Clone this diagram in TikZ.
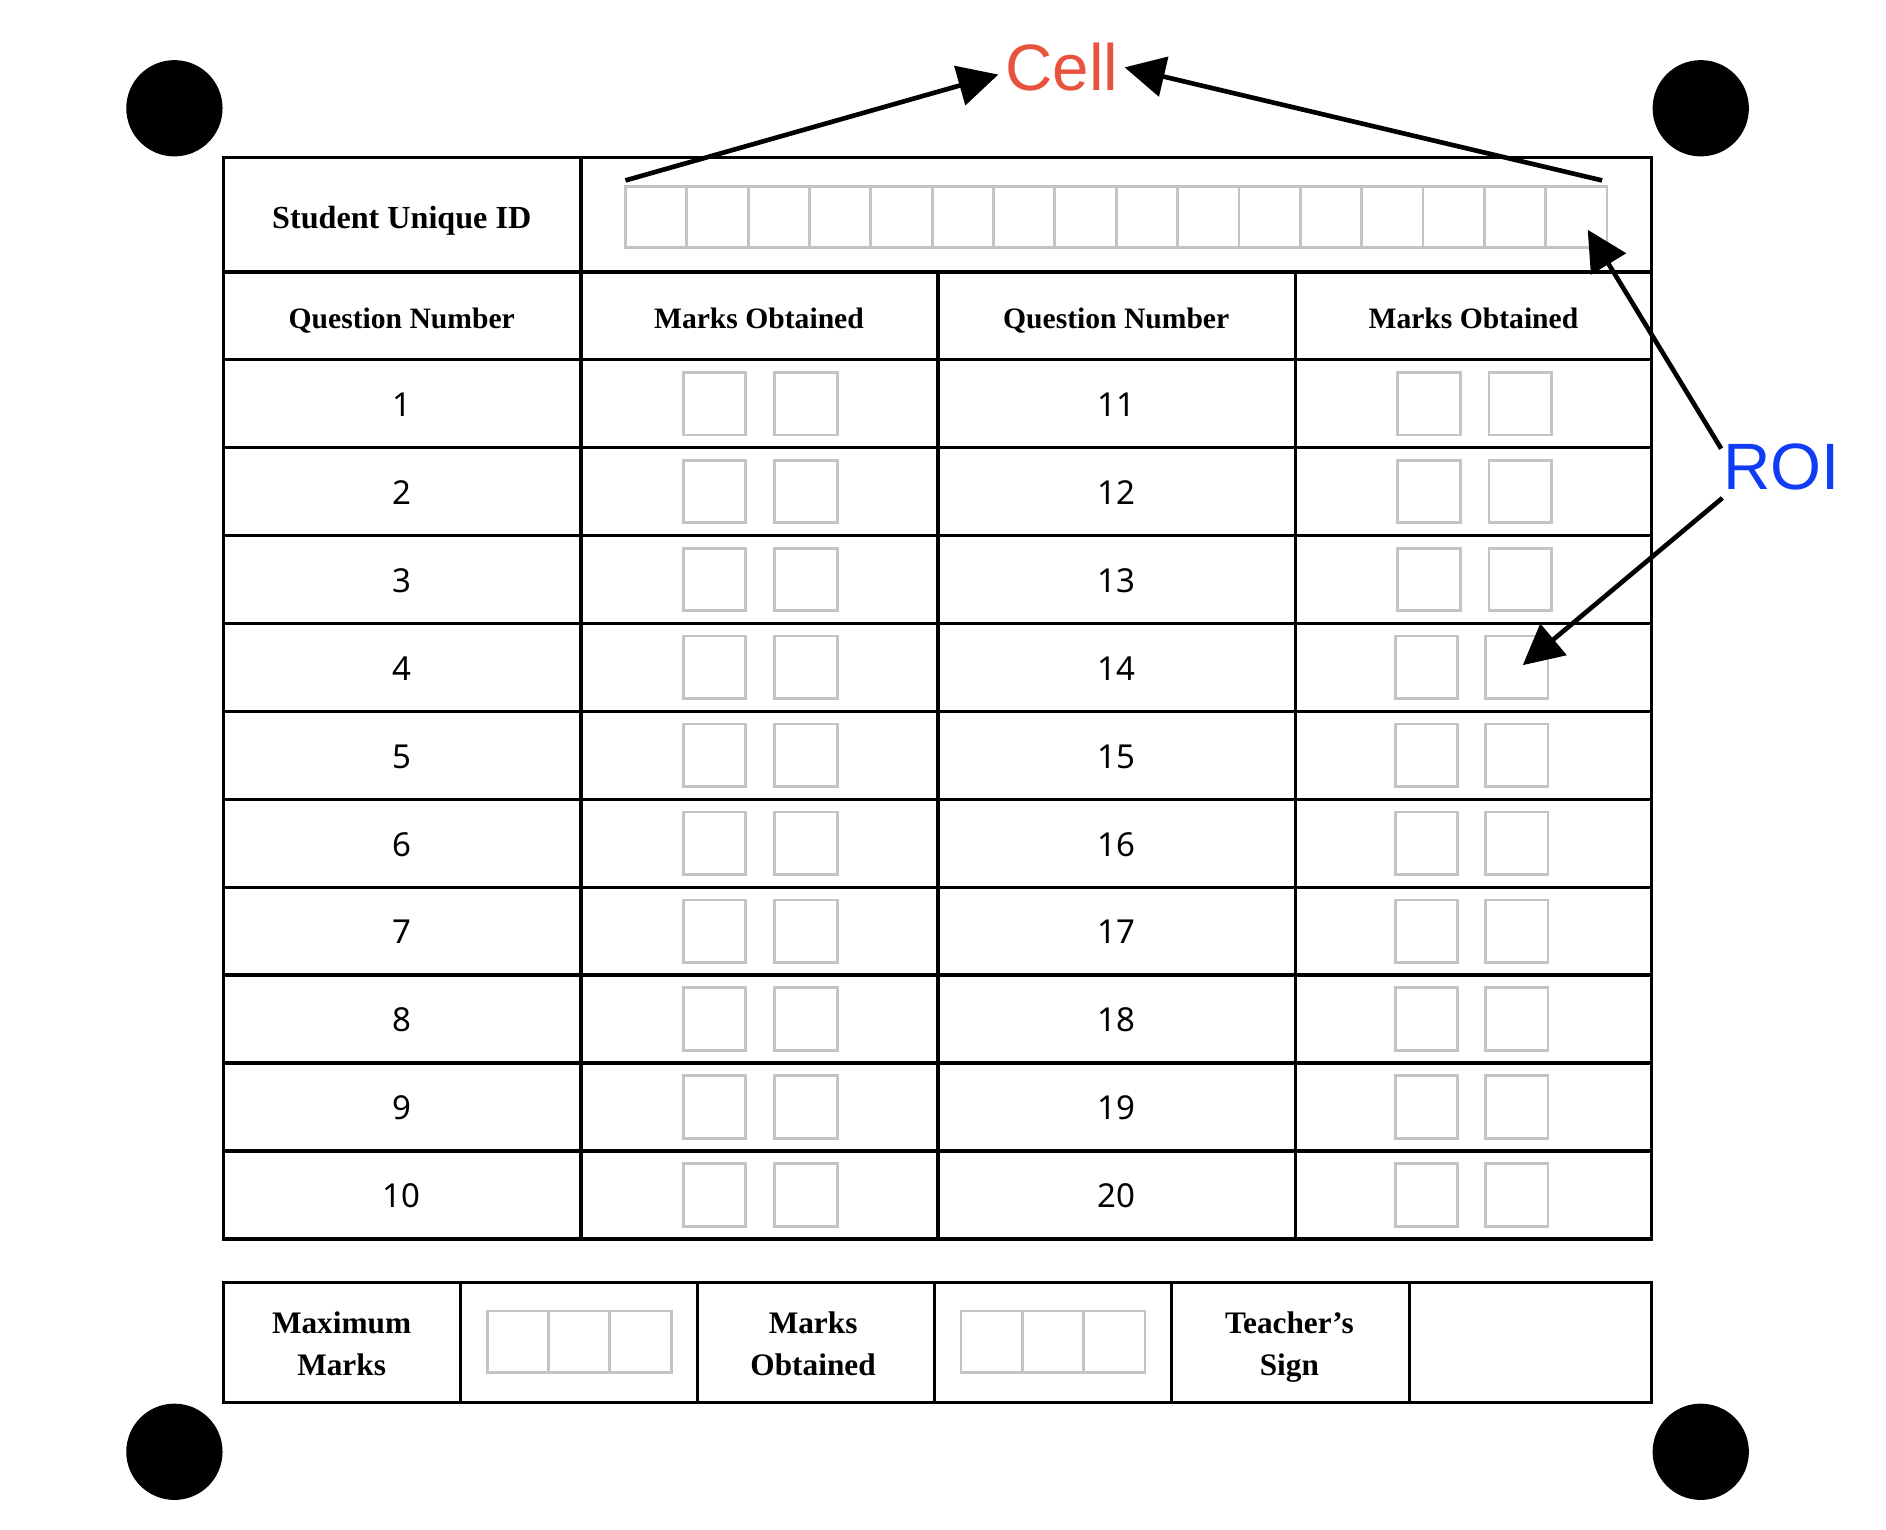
\documentclass[tikz,border=0pt]{standalone}
\usepackage{fontspec}
\setmainfont{Liberation Serif}
\newfontfamily\numfont{Noto Sans}
\newfontfamily\labfont{Liberation Sans}
\usetikzlibrary{arrows.meta}
\definecolor{cellred}{RGB}{232,83,63}
\definecolor{roiblue}{RGB}{16,60,245}
\definecolor{boxgray}{RGB}{196,196,196}
\begin{document}
\begin{tikzpicture}[x=0.01cm,y=-0.01cm,
  tbl/.style={line width=0.8pt},
  gbox/.style={draw=boxgray, line width=0.65pt},
  hdr/.style={font=\fontsize{7}{8.5}\selectfont\bfseries, text height=0.68em, text depth=0pt},
  sidtext/.style={font=\fontsize{7.6}{9}\selectfont\bfseries, text height=0.68em, text depth=0pt},
  bot/.style={font=\fontsize{7.4}{9.9}\selectfont\bfseries, align=center, text depth=0pt},
  num/.style={font=\numfont\fontsize{7.8}{9}\selectfont, text height=0.72em, text depth=0pt},
  lab/.style={font=\labfont\fontsize{15.5}{18}\selectfont},
  arr/.style={line width=1.1pt, -{Triangle[length=9.5pt,width=9.5pt]}},
  dot/.style={circle, fill=black, minimum size=0.8cm, inner sep=0pt}
]
\useasboundingbox (0,0) rectangle (1568,1272);
% corner markers
\node[dot] (d1) at (145,90) {};
\node[dot] (d2) at (1414,90) {};
\node[dot] (d3) at (145,1207) {};
\node[dot] (d4) at (1414,1207) {};
% main table
\draw[tbl] (186,131) rectangle (1373,1030);
\draw[tbl] (186,226) -- (1373,226);
\draw[tbl] (483,131) -- (483,1030);
\draw[tbl] (780,226) -- (780,1030);
\draw[tbl] (1077,226) -- (1077,1030);
\foreach \i in {0,...,9} {
  \draw[tbl] (186,299+73.1*\i) -- (1373,299+73.1*\i);
}
% ID boxes
\foreach \k in {0,...,15} {
  \draw[gbox] (520+51*\k,155) rectangle ++(51,51);
}
% header texts
\node[sidtext] (sid) at (334,178) {Student Unique ID};
\node[hdr] (h1) at (334,261) {Question Number};
\node[hdr] (h2) at (631,261) {Marks Obtained};
\node[hdr] (h3) at (928,261) {Question Number};
\node[hdr] (h4) at (1225,261) {Marks Obtained};
% rows
\foreach \i in {1,...,10} {
  \pgfmathsetmacro{\yc}{299+73.1*(\i-0.5)}
  \pgfmathsetmacro{\yt}{\yc-2}
  \pgfmathtruncatemacro{\j}{\i+10}
  \node[num] (qa\i) at (334,\yt) {\i};
  \node[num] (qb\i) at (928,\yt) {\j};
  \draw[gbox] (568,\yc-26) rectangle ++(52,52);
  \draw[gbox] (644,\yc-26) rectangle ++(52,52);
  \ifnum\i<4
    \draw[gbox] (1162,\yc-26) rectangle ++(52,52);
    \draw[gbox] (1238,\yc-26) rectangle ++(52,52);
  \else
    \draw[gbox] (1160,\yc-26) rectangle ++(52,52);
    \draw[gbox] (1235,\yc-26) rectangle ++(52,52);
  \fi
}
% bottom table
\draw[tbl] (186,1066) rectangle (1373,1166);
\foreach \x in {383,580,777,974,1172} {
  \draw[tbl] (\x,1066) -- (\x,1166);
}
\foreach \k in {0,1,2} {
  \draw[gbox] (405+51*\k,1090) rectangle ++(51,51);
  \draw[gbox] (799+51*\k,1090) rectangle ++(51,51);
}
\node[bot] (mm) at (284,1117) {Maximum\\Marks};
\node[bot] (mo) at (676,1117) {Marks\\Obtained};
\node[bot] (ts) at (1072,1117) {Teacher’s\\Sign};
% labels
\node[lab, text=cellred] (cell) at (883,56) {Cell};
\node[lab, text=roiblue] (roi) at (1481,388) {ROI};
% arrows
\coordinate (c1s) at (520,150);
\coordinate (c1e) at (830,62);
\coordinate (c2s) at (1332,150);
\coordinate (c2e) at (935,56);
\coordinate (r1s) at (1431,373);
\coordinate (r1e) at (1320,191);
\coordinate (r2s) at (1432,414);
\coordinate (r2e) at (1266,553);
\draw[arr] (c1s) -- (c1e);
\draw[arr] (c2s) -- (c2e);
\draw[arr] (r1s) -- (r1e);
\draw[arr] (r2s) -- (r2e);
\end{tikzpicture}
\end{document}
